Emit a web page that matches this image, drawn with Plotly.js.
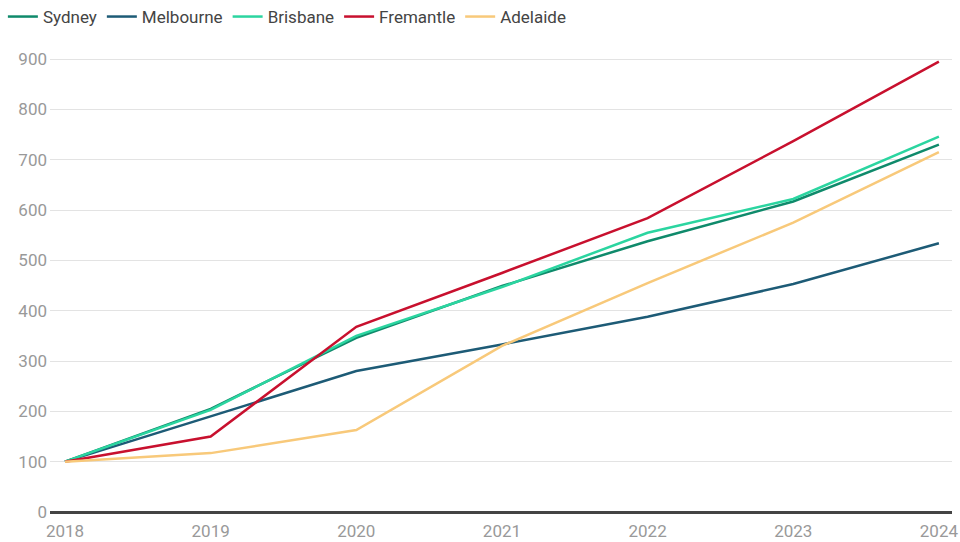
<!DOCTYPE html>
<html>
<head>
<meta charset="utf-8">
<script src="https://cdn.plot.ly/plotly-3.0.1.min.js"></script>
<style>
  html, body { margin: 0; padding: 0; background: #fff; }
  #chart { width: 960px; height: 542px; }
</style>
</head>
<body>
<div id="chart"></div>
<script>
const years = [2018, 2019, 2020, 2021, 2022, 2023, 2024];
const sydney    = [100, 205, 346, 449, 538, 617, 730];
const melbourne = [100, 190, 280, 333, 388, 453, 534];
const brisbane  = [100, 203, 350, 447, 555, 622, 746];
const fremantle = [100, 150, 368, 475, 584, 737, 895];
const adelaide  = [100, 117, 163, 330, 455, 575, 715];

const series = [
    { name: 'Sydney', y: sydney, color: '#0f8a6b' },
    { name: 'Melbourne', y: melbourne, color: '#1d5b76' },
    { name: 'Brisbane', y: brisbane, color: '#2bd5a0' },
    { name: 'Fremantle', y: fremantle, color: '#c8102e' },
    { name: 'Adelaide', y: adelaide, color: '#f8c97a' }
];

const traces = series.map(s => ({
    x: years,
    y: s.y,
    name: s.name,
    type: 'scatter',
    mode: 'lines',
    line: { color: s.color, width: 2.5 }
}));

const layout = {
    width: 960,
    height: 542,
    margin: { l: 50, r: 8, t: 45, b: 30 },
    paper_bgcolor: '#fff',
    plot_bgcolor: '#fff',
    font: { family: 'Roboto, sans-serif', size: 17, color: '#999' },
    showlegend: true,
    legend: {
        orientation: 'h',
        xref: 'container', yref: 'container',
        x: 0.003, xanchor: 'left',
        y: 1 - 17 / 542, yanchor: 'middle',
        font: { size: 17, color: '#444' },
        itemwidth: 30,
        traceorder: 'normal'
    },
    xaxis: {
        range: [2017.897, 2024.09],
        tickvals: years,
        ticktext: years.map(String),
        showgrid: false,
        zeroline: false,
        showline: false,
        ticks: '',
        ticklabelstandoff: 7,
        tickfont: { size: 17, color: '#999' }
    },
    yaxis: {
        range: [0, 928],
        tickvals: [0, 100, 200, 300, 400, 500, 600, 700, 800, 900],
        showgrid: true,
        gridcolor: '#e3e3e3',
        gridwidth: 1,
        zeroline: true,
        zerolinecolor: '#444',
        zerolinewidth: 2.5,
        ticks: '',
        ticklabelstandoff: 2,
        tickfont: { size: 17, color: '#999' }
    }
};

Plotly.newPlot('chart', traces, layout, { displayModeBar: false });
</script>
</body>
</html>
